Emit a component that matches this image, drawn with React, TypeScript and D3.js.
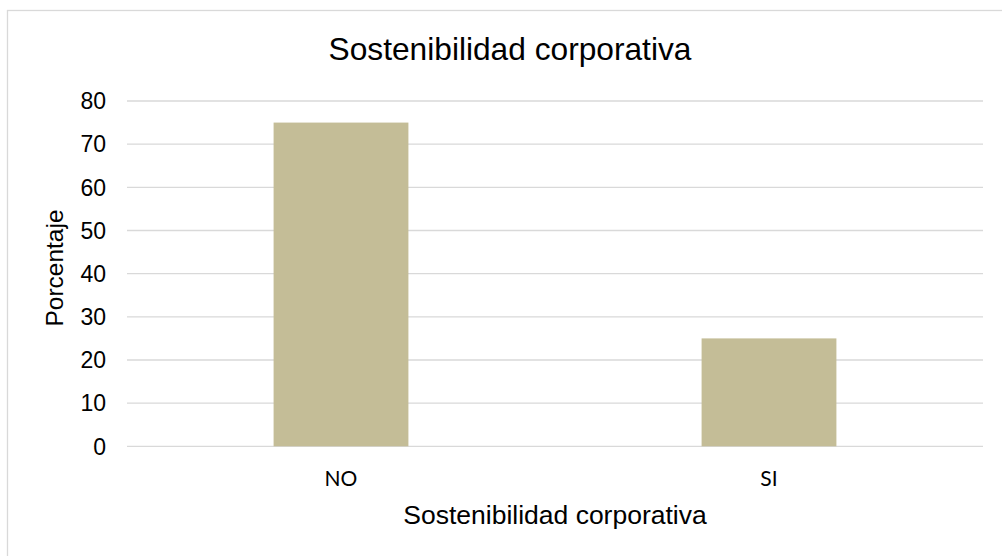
import React from 'react';
import * as d3 from 'd3';

const categories = ['NO', 'SI'];
const values = [75, 25];
const yTicks = [0, 10, 20, 30, 40, 50, 60, 70, 80];

const chartTitle = 'Sostenibilidad corporativa';
const xTitle = 'Sostenibilidad corporativa';
const yTitle = 'Porcentaje';

const W = 1002;
const H = 556;

// plot area
const plot = { left: 127, right: 983, top: 101, bottom: 446.3 };

const App: React.FC = () => {
  const x = d3
    .scaleBand<string>()
    .domain(categories)
    .range([plot.left, plot.right])
    .paddingInner(0.685)
    .paddingOuter(0.3425);

  const y = d3.scaleLinear().domain([0, 80]).range([plot.bottom, plot.top]);

  const font = 'Arial, "Liberation Sans", sans-serif';

  return (
    <svg
      width={W}
      height={H}
      style={{ position: 'absolute', left: 0, top: 0, background: '#fff' }}
    >
      {/* chart area frame */}
      <rect x={7.5} y={10.5} width={1100} height={700} fill="#fff" stroke="#d9d9d9" strokeWidth={1.3} />

      <text x={510} y={60} textAnchor="middle" fontFamily={font} fontSize={31.7} fill="#000">
        {chartTitle}
      </text>

      {/* gridlines */}
      {yTicks.map((t) => (
        <line
          key={'g' + t}
          x1={plot.left}
          x2={plot.right}
          y1={y(t)}
          y2={y(t)}
          stroke="#d9d9d9"
          strokeWidth={1.3}
        />
      ))}

      {/* bars */}
      {categories.map((c, i) => (
        <rect
          key={c}
          x={x(c)}
          y={y(values[i])}
          width={x.bandwidth()}
          height={y(0) - y(values[i])}
          fill="#c4bd97"
        />
      ))}

      {/* y tick labels */}
      {yTicks.map((t) => (
        <text
          key={'t' + t}
          x={106}
          y={y(t) + 8.3}
          textAnchor="end"
          fontFamily={font}
          fontSize={23}
          fill="#000"
        >
          {t}
        </text>
      ))}

      {/* x tick labels */}
      {categories.map((c) => (
        <text
          key={'x' + c}
          x={(x(c) as number) + x.bandwidth() / 2}
          y={486}
          textAnchor="middle"
          fontFamily='Lato, "Open Sans", sans-serif'
          fontSize={21}
          fill="#000"
        >
          {c}
        </text>
      ))}

      <text
        x={(plot.left + plot.right) / 2}
        y={523.5}
        textAnchor="middle"
        fontFamily={font}
        fontSize={26.5}
        fill="#000"
      >
        {xTitle}
      </text>

      <text
        transform={`translate(63,268) rotate(-90)`}
        textAnchor="middle"
        fontFamily={font}
        fontSize={24.5}
        fill="#000"
      >
        {yTitle}
      </text>
    </svg>
  );
};

export default App;
